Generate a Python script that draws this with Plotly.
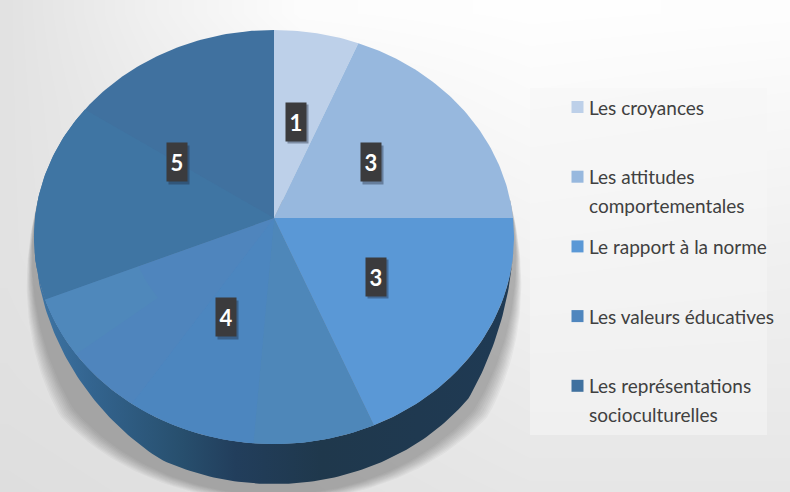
import numpy as np
import plotly.graph_objects as go

categories = ["Les croyances", "Les attitudes\ncomportementales", "Le rapport à la norme",
              "Les valeurs éducatives", "Les représentations\nsocioculturelles"]
values = [1, 3, 3, 4, 5]
colors = ["#bdd0e9", "#97b8de", "#5a98d6", "#4f86be", "#40719f"]

W, H = 790, 492
CX, CY, RX, RY, K, DEPTH = 274.0, 218.0, 239.0, 205.3, 0.0918, 40.0


def project(theta, r=1.0, dy=0.0):
    u, v = r * np.sin(theta), r * np.cos(theta)
    d = 1 + K * v
    return CX + RX * u / d, CY - RY * v / d + dy


def wedge(a0, a1, r0=0.0, r1=1.0):
    t = np.linspace(a0, a1, max(int((a1 - a0) * 60), 4))
    xo, yo = project(t, r1)
    if r0 == 0:
        xi, yi = project(np.array([0.0]), 0.0)
    else:
        xi, yi = project(t[::-1], r0)
    return np.r_[xo, xi, xo[0]], np.r_[yo, yi, yo[0]]


def poly(x, y, color, **kw):
    return go.Scatter(x=x, y=y, mode="lines", fill="toself", fillcolor=color,
                      line=dict(width=0, color=color), hoverinfo="skip", showlegend=False, **kw)


fig = go.Figure()

# panel background
bg_x = [7, 150, 300, 530, 790]
bg_y = [13, 100, 250, 400, 492]
bg_z = [[226, 240, 252, 254, 253],
        [226, 236, 244, 250, 248],
        [226, 232, 236, 242, 240],
        [224, 226, 228, 234, 234],
        [222, 224, 226, 230, 230]]
fig.add_trace(go.Heatmap(x=bg_x, y=bg_y, z=bg_z, zsmooth="best", zmin=0, zmax=255,
                         colorscale=[[0, "#000000"], [1, "#ffffff"]], showscale=False, hoverinfo="skip"))

# soft shadow below the disc, tapering into the disc edge at the sides
theta_low = np.radians(np.linspace(85, 275, 160))
taper = np.clip((95 - np.abs(np.degrees(theta_low) - 180)) / 45, 0, 1)
for s in np.linspace(0.10, 0.03, 10):
    sx, sy = project(theta_low)
    sx = CX + (sx - CX) * (1 + s * taper)
    sy = sy + (DEPTH + 8 + s * 100) * taper
    fig.add_trace(poly(sx, sy, "rgba(60,60,60,0.04)"))

# legend backdrop
fig.add_trace(poly([530, 767, 767, 530, 530], [88, 88, 435, 435, 88], "rgba(246,246,246,0.55)"))

# side wall: thickness grows from nothing at the disc's sides to full depth at the front
tw_deg = np.linspace(98, 262, 180)
tw = np.radians(tw_deg)
thick = DEPTH * np.minimum(np.clip((tw_deg - 102) / 28, 0, 1), np.clip((258 - tw_deg) / 52, 0, 1))
xt, yt = project(tw)
xb, yb = project(tw, 1.0, thick)
fig.add_trace(go.Scatter(x=np.r_[xt, xb[::-1]], y=np.r_[yt, yb[::-1]], mode="lines", fill="toself",
                         line=dict(width=0), hoverinfo="skip", showlegend=False,
                         fillgradient=dict(type="horizontal",
                                           colorscale=[[0, "#3f76a6"], [0.12, "#33648f"], [0.3, "#28506f"],
                                                       [0.42, "#223e5c"], [0.6, "#1f384c"], [1, "#1f3a54"]])))

# top surface slices
total = sum(values)
edges = np.r_[0, np.cumsum(values)] / total * 2 * np.pi
for i, c in enumerate(colors):
    x, y = wedge(edges[i], edges[i + 1])
    fig.add_trace(poly(x, y, c))

# faint facets in the two large slices
a3, a4, a5 = edges[3], edges[4], edges[5]
s4 = a4 - a3
for f0, f1, r0, r1, c in [(0.0, 0.3, 0.0, 1.0, "#4e87b9"), (0.3, 0.62, 0.0, 1.0, "#4c86bf"),
                          (0.62, 1.0, 0.0, 1.0, "#4f85bd"), (0.82, 1.0, 0.6, 1.0, "#4f88bb")]:
    x, y = wedge(a3 + f0 * s4, a3 + f1 * s4, r0, r1)
    fig.add_trace(poly(x, y, c))
s5 = a5 - a4
x, y = wedge(a4, a4 + 0.5 * s5)
fig.add_trace(poly(x, y, "#3f75a3"))

# data labels
mid = (edges[:-1] + edges[1:]) / 2
lx, ly = project(mid, 0.5)
for x, y, v in zip(lx, ly, values):
    fig.add_annotation(x=x + 2, y=y + 2.5, text=" ", showarrow=False, width=20, height=38,
                       bgcolor="rgba(30,40,60,0.4)", borderpad=0)
    fig.add_annotation(x=x, y=y, text=f"<b>{v}</b>", showarrow=False, width=20, height=38,
                       bgcolor="#3b3b3d", borderpad=0, valign="middle", align="center",
                       font=dict(family="Lato", size=22, color="#ffffff"))

# legend
ly0, step = 107.0, 69.7
sw_y = [ly0 + i * step for i in range(len(categories))]
fig.add_trace(go.Scatter(x=[577.5] * len(categories), y=sw_y, mode="markers", showlegend=False, hoverinfo="skip",
                         marker=dict(symbol="square", size=12, color=colors, line_width=0)))
for y, name in zip(sw_y, categories):
    for j, line in enumerate(name.split("\n")):
        fig.add_annotation(x=587, y=y + j * 28.5, text=line, showarrow=False, xanchor="left", yanchor="middle",
                           font=dict(family="Lato", size=19, color="#404040"))

fig.update_xaxes(range=[0, W], visible=False, fixedrange=True)
fig.update_yaxes(range=[H, 0], visible=False, fixedrange=True)
fig.update_layout(width=W, height=H, margin=dict(l=0, r=0, t=0, b=0), paper_bgcolor="#ffffff",
                  plot_bgcolor="#ffffff", showlegend=False)
fig.write_html("out.html", config={"displayModeBar": False},
               post_script="document.body.style.margin='0';document.body.style.overflow='hidden';")
